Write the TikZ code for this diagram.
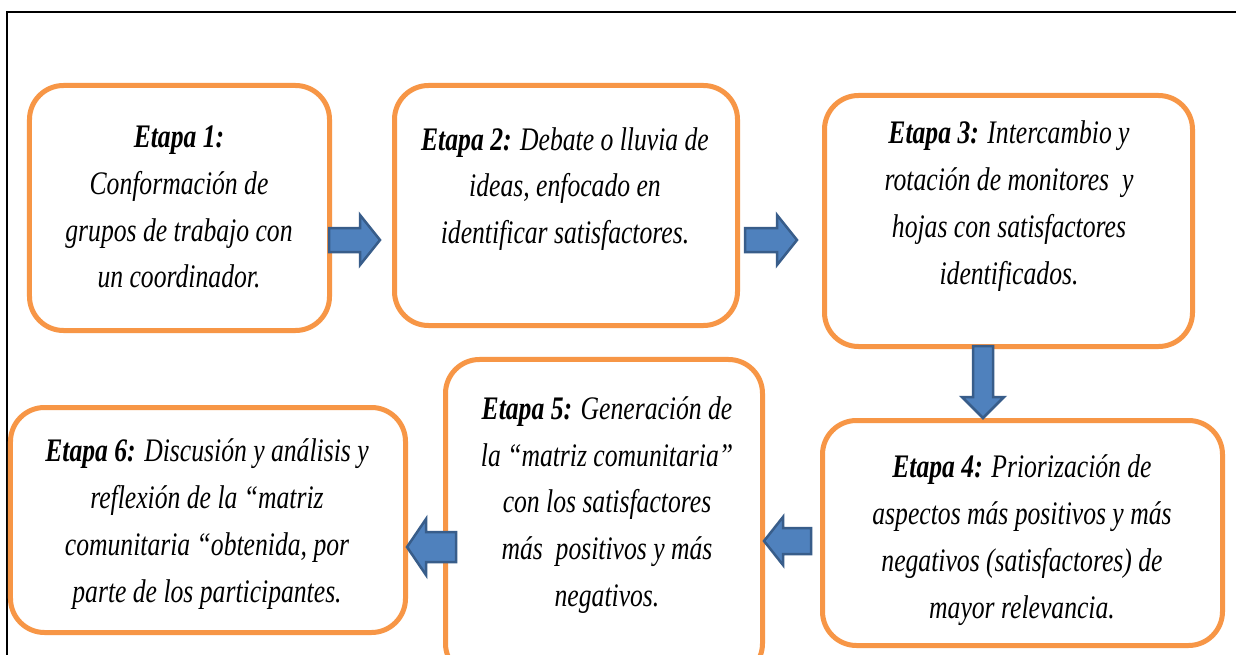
\documentclass[tikz,border=0pt]{standalone}
\usepackage{fontspec}
\setmainfont[FakeStretch=0.78]{Liberation Serif}
\definecolor{boxorange}{HTML}{F79646}
\definecolor{arrowfill}{HTML}{4F81BD}
\definecolor{arrowline}{HTML}{385D8A}
\begin{document}
\begin{tikzpicture}[x=1bp,y=-1bp,
  stagebox/.style={draw=boxorange, line width=5bp, rounded corners=34bp, fill=white, inner sep=0pt},
  stagetext/.style={align=center, inner sep=0pt, font=\fontsize{33}{47}\selectfont\itshape},
  blockarrow/.style={fill=arrowfill, draw=arrowline, line width=2.5bp, line join=miter}]
\useasboundingbox (0,0) rectangle (1236,655);
\clip (0,0) rectangle (1236,655);
\fill[white] (0,0) rectangle (1236,655);
\draw[line width=2bp] (7,660) -- (7,12) -- (1240,12);

\node[stagebox, minimum width=300bp, minimum height=245bp] (b1) at (179.5,208) {};
\node[stagebox, minimum width=343bp, minimum height=240bp] (b2) at (566,205.5) {};
\node[stagebox, minimum width=368bp, minimum height=251bp] (b3) at (1008.5,221) {};
\node[stagebox, minimum width=400bp, minimum height=225bp] (b4) at (1022.5,533) {};
\node[stagebox, minimum width=317bp, minimum height=318bp] (b5) at (604,518.5) {};
\node[stagebox, minimum width=395bp, minimum height=225bp] (b6) at (208,520) {};

\node[stagetext] (t1) at (179,207) {\textbf{Etapa 1:}\\Conformación de\\grupos de trabajo con\\un coordinador.};
\node[stagetext] (t2) at (565,189) {\textbf{Etapa 2:} Debate o lluvia de\\ideas, enfocado en\\identificar satisfactores.};
\node[stagetext] (t3) at (1009,206) {\textbf{Etapa 3:} Intercambio y\\rotación de monitores\ \ y\\hojas con satisfactores\\identificados.};
\node[stagetext] (t4) at (1022,540) {\textbf{Etapa 4:} Priorización de\\aspectos más positivos y más\\negativos (satisfactores) de\\mayor relevancia.};
\node[stagetext] (t5) at (607,505) {\textbf{Etapa 5:} Generación de\\la “matriz comunitaria”\\con los satisfactores\\más\ \ positivos y más\\negativos.};
\node[stagetext] (t6) at (207,524) {\textbf{Etapa 6:} Discusión y análisis y\\reflexión de la “matriz\\comunitaria “obtenida, por\\parte de los participantes.};

% arrow b1 -> b2
\draw[blockarrow] (329,228) -- (360,228) -- (360,215) -- (380,240) -- (360,265) -- (360,252) -- (329,252) -- cycle;
% arrow b2 -> b3
\draw[blockarrow] (745,228) -- (777,228) -- (777,215) -- (797,240) -- (777,265) -- (777,252) -- (745,252) -- cycle;
% arrow b3 -> b4
\draw[blockarrow] (973,346) -- (973,397) -- (962,397) -- (983,418) -- (1004,397) -- (993,397) -- (993,346) -- cycle;
% arrow b4 -> b5
\draw[blockarrow] (811,528) -- (783,528) -- (783,517) -- (764,541) -- (783,565) -- (783,554) -- (811,554) -- cycle;
% arrow b5 -> b6
\draw[blockarrow] (456,532) -- (426,532) -- (426,519) -- (407,547) -- (426,575) -- (426,562) -- (456,562) -- cycle;
\end{tikzpicture}
\end{document}
